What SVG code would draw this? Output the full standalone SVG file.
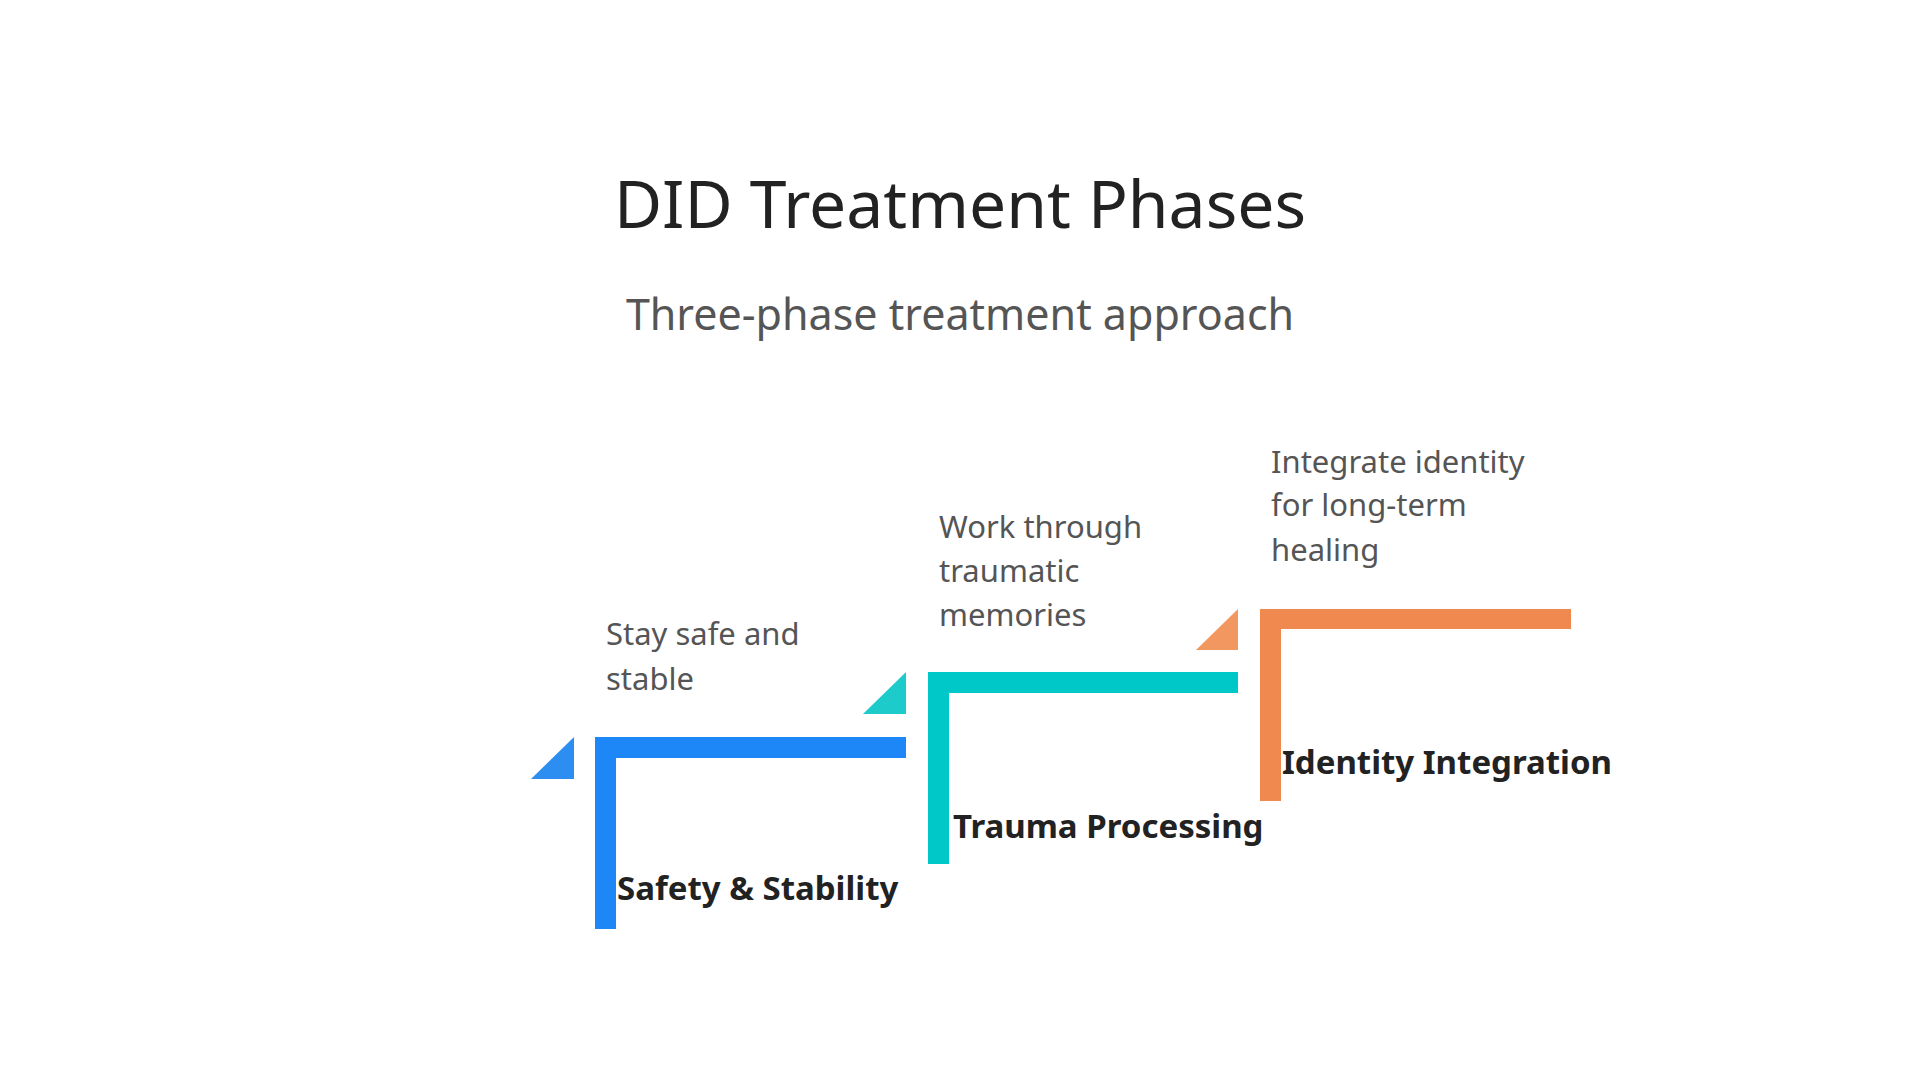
<svg xmlns="http://www.w3.org/2000/svg" width="1920" height="1080" viewBox="0 0 1920 1080">
<style>
.t{font-family:"Noto Sans","Open Sans",sans-serif;fill:#222}
.title{font-size:66px}
.sub{font-size:43px;fill:#555}
.lab{font-size:33px;font-weight:bold}
.desc{font-size:31px;fill:#555}
</style>
<rect width="1920" height="1080" fill="#fff"/>
<text class="t title" x="960" y="228" text-anchor="middle">DID Treatment Phases</text>
<text class="t sub" x="960" y="330" text-anchor="middle">Three-phase treatment approach</text>
<g id="phase1">
<path d="M595 737H906V758H616V929H595Z" fill="#1E87F7"/>
<polygon points="531,779 574,737 574,779" fill="#2B8EF0"/>
<text class="t lab" x="617" y="900">Safety &amp; Stability</text>
<text class="t desc" x="606" y="645">Stay safe and</text>
<text class="t desc" x="606" y="690">stable</text>
</g>
<g id="phase2">
<path d="M928 672H1238V693H949V864H928Z" fill="#00C8C8"/>
<polygon points="863,714 906,672 906,714" fill="#1DCBCB"/>
<text class="t lab" x="953" y="838">Trauma Processing</text>
<text class="t desc" x="939" y="538">Work through</text>
<text class="t desc" x="939" y="582">traumatic</text>
<text class="t desc" x="939" y="626">memories</text>
</g>
<g id="phase3">
<path d="M1260 609H1571V629H1281V801H1260Z" fill="#F0894F"/>
<polygon points="1196,650 1238,609 1238,650" fill="#F29760"/>
<text class="t lab" x="1282" y="774">Identity Integration</text>
<text class="t desc" x="1271" y="473">Integrate identity</text>
<text class="t desc" x="1271" y="516">for long-term</text>
<text class="t desc" x="1271" y="561">healing</text>
</g>
<g id="connectors"/>
</svg>
